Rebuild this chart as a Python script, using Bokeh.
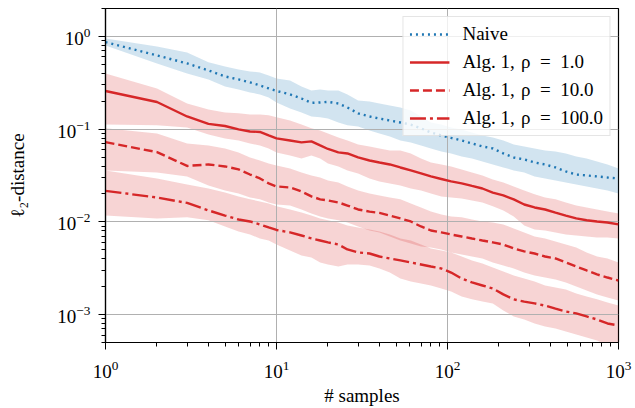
from bokeh.plotting import figure
from bokeh.models import Range1d, FixedTicker, LogTickFormatter
from bokeh.embed import file_html
from bokeh.resources import INLINE

n_samples = [1, 2, 3, 4, 5, 6, 7, 8, 9, 10, 12, 14, 16, 18, 20, 23, 26, 30, 35, 40, 46, 53, 61, 70,
             80, 92, 105, 121, 139, 160, 184, 212, 244, 281, 323, 372, 428, 492, 566, 651, 749, 862, 1000]

naive = [0.868, 0.624, 0.511, 0.430, 0.370, 0.344, 0.319, 0.296, 0.275, 0.258, 0.237, 0.214, 0.192, 0.194,
         0.197, 0.189, 0.171, 0.148, 0.137, 0.130, 0.124, 0.118, 0.112, 0.102, 0.0921, 0.0855, 0.0804, 0.0755,
         0.0701, 0.0651, 0.0619, 0.0547, 0.0495, 0.0471, 0.0437, 0.0416, 0.0386, 0.0350, 0.0324, 0.0317,
         0.0309, 0.0301, 0.0294]
naive_hi = [0.951, 0.780, 0.672, 0.525, 0.475, 0.441, 0.419, 0.409, 0.380, 0.352, 0.335, 0.289, 0.261, 0.268,
            0.261, 0.261, 0.237, 0.204, 0.199, 0.189, 0.180, 0.171, 0.159, 0.137, 0.118, 0.112, 0.104, 0.0993,
            0.0921, 0.0855, 0.0813, 0.0755, 0.0684, 0.0651, 0.0619, 0.0589, 0.0574, 0.0547, 0.0508, 0.0483,
            0.0449, 0.0416, 0.0377]
naive_lo = [0.800, 0.511, 0.399, 0.344, 0.289, 0.268, 0.249, 0.237, 0.220, 0.194, 0.167, 0.151, 0.137, 0.134,
            0.130, 0.118, 0.110, 0.107, 0.0968, 0.0899, 0.0834, 0.0755, 0.0719, 0.0667, 0.0619, 0.0574, 0.0547,
            0.0508, 0.0483, 0.0449, 0.0416, 0.0386, 0.0359, 0.0341, 0.0309, 0.0294, 0.0280, 0.0266, 0.0253,
            0.0241, 0.0229, 0.0218, 0.0202]

rho1 = [0.258, 0.196, 0.137, 0.114, 0.108, 0.0993, 0.0944, 0.0933, 0.0855, 0.0794, 0.0755, 0.0719, 0.0737,
        0.0667, 0.0611, 0.0561, 0.0547, 0.0495, 0.0459, 0.0437, 0.0416, 0.0386, 0.0359, 0.0333, 0.0309, 0.0290,
        0.0273, 0.0260, 0.0244, 0.0229, 0.0207, 0.0193, 0.0175, 0.0154, 0.0143, 0.0136, 0.0126, 0.0117, 0.0109,
        0.0104, 0.0101, 0.00985, 0.00938]
rho1_hi = [0.399, 0.275, 0.189, 0.163, 0.151, 0.148, 0.144, 0.144, 0.141, 0.134, 0.124, 0.112, 0.102, 0.0968,
           0.0899, 0.0813, 0.0755, 0.0684, 0.0651, 0.0619, 0.0589, 0.0589, 0.0547, 0.0483, 0.0437, 0.0416,
           0.0396, 0.0368, 0.0341, 0.0317, 0.0287, 0.0266, 0.0241, 0.0218, 0.0198, 0.0183, 0.0175, 0.0162,
           0.0150, 0.0143, 0.0136, 0.0129, 0.0123]
rho1_lo = [0.112, 0.110, 0.104, 0.0877, 0.0794, 0.0755, 0.0701, 0.0667, 0.0619, 0.0561, 0.0520, 0.0483, 0.0520,
           0.0483, 0.0427, 0.0396, 0.0359, 0.0333, 0.0294, 0.0273, 0.0260, 0.0247, 0.0229, 0.0218, 0.0202,
           0.0188, 0.0183, 0.0179, 0.0170, 0.0162, 0.0147, 0.0133, 0.0114, 0.00915, 0.00828, 0.00807, 0.00769,
           0.00731, 0.00713, 0.00696, 0.00679, 0.00679, 0.00662]

rho10 = [0.0724, 0.0565, 0.0401, 0.0416, 0.0396, 0.0368, 0.0324, 0.0294, 0.0260, 0.0241, 0.0235, 0.0213, 0.0188,
         0.0175, 0.0170, 0.0162, 0.0150, 0.0136, 0.0129, 0.0125, 0.0117, 0.0109, 0.0101, 0.00892, 0.00807,
         0.00769, 0.00731, 0.00696, 0.00662, 0.00630, 0.00600, 0.00570, 0.00516, 0.00480, 0.00456, 0.00423,
         0.00403, 0.00365, 0.00330, 0.00299, 0.00271, 0.00251, 0.00233]
rho10_hi = [0.102, 0.0899, 0.0701, 0.0667, 0.0619, 0.0561, 0.0495, 0.0459, 0.0427, 0.0406, 0.0377, 0.0341,
            0.0317, 0.0301, 0.0280, 0.0266, 0.0241, 0.0218, 0.0202, 0.0193, 0.0183, 0.0175, 0.0158, 0.0143,
            0.0129, 0.0120, 0.0114, 0.0112, 0.0106, 0.0101, 0.00985, 0.00938, 0.00849, 0.00769, 0.00696,
            0.00662, 0.00615, 0.00570, 0.00530, 0.00468, 0.00423, 0.00403, 0.00365]
rho10_lo = [0.0359, 0.0341, 0.0309, 0.0247, 0.0218, 0.0202, 0.0183, 0.0175, 0.0162, 0.0154, 0.0150, 0.0136,
            0.0123, 0.0114, 0.0109, 0.0104, 0.00985, 0.00892, 0.00807, 0.00769, 0.00696, 0.00630, 0.00585,
            0.00543, 0.00530, 0.00504, 0.00468, 0.00445, 0.00423, 0.00403, 0.00365, 0.00339, 0.00314, 0.00284,
            0.00264, 0.00251, 0.00239, 0.00222, 0.00201, 0.00182, 0.00165, 0.00153, 0.00142]

rho100 = [0.0216, 0.0183, 0.0160, 0.0133, 0.0117, 0.0106, 0.0101, 0.00938, 0.00871, 0.00818, 0.00769, 0.00713,
          0.00662, 0.00630, 0.00600, 0.00570, 0.00504, 0.00468, 0.00456, 0.00423, 0.00403, 0.00384, 0.00365,
          0.00347, 0.00330, 0.00314, 0.00284, 0.00245, 0.00222, 0.00206, 0.00191, 0.00165, 0.00146, 0.00138,
          0.00132, 0.00125, 0.00116, 0.00108, 0.00103, 0.000955, 0.000885, 0.000802, 0.000764]
rho100_hi = [0.0359, 0.0294, 0.0253, 0.0229, 0.0207, 0.0188, 0.0175, 0.0166, 0.0158, 0.0147, 0.0136, 0.0126,
             0.0117, 0.0109, 0.0104, 0.00985, 0.00915, 0.00871, 0.00828, 0.00788, 0.00731, 0.00662, 0.00630,
             0.00570, 0.00516, 0.00492, 0.00468, 0.00423, 0.00384, 0.00356, 0.00322, 0.00292, 0.00264, 0.00245,
             0.00228, 0.00206, 0.00196, 0.00187, 0.00169, 0.00157, 0.00146, 0.00135, 0.00125]
rho100_lo = [0.0117, 0.0109, 0.0112, 0.0104, 0.00892, 0.00788, 0.00731, 0.00662, 0.00630, 0.00570, 0.00492,
             0.00434, 0.00413, 0.00365, 0.00347, 0.00330, 0.00347, 0.00347, 0.00339, 0.00314, 0.00284, 0.00245,
             0.00228, 0.00217, 0.00206, 0.00191, 0.00177, 0.00157, 0.00146, 0.00138, 0.00132, 0.00111, 0.000955,
             0.000885, 0.000802, 0.000745, 0.000708, 0.000657, 0.000610, 0.000566, 0.000526, 0.000465, 0.000410]

labels = ["Naive", "Alg. 1,\u2004ρ\u2002=\u20021.0", "Alg. 1,\u2004ρ\u2002=\u200210.0",
          "Alg. 1,\u2004ρ\u2002=\u2002100.0"]

BLUE = "#1f77b4"
RED = "#d62728"
FONT = "Liberation Serif"
FS = "19px"

p = figure(width=633, height=408, x_axis_type="log", y_axis_type="log",
           x_range=Range1d(1, 1000), y_range=Range1d(5e-4, 2),
           output_backend="svg", toolbar_location=None,
           min_border_left=105, min_border_right=15, min_border_top=8, min_border_bottom=66)

series = [
    (naive, naive_lo, naive_hi, BLUE, "2 4"),
    (rho1, rho1_lo, rho1_hi, RED, "solid"),
    (rho10, rho10_lo, rho10_hi, RED, "9 4"),
    (rho100, rho100_lo, rho100_hi, RED, "16 4 3 4"),
]

for (mid, lo, hi, col, dash), lab in zip(series, labels):
    band = p.varea(x=n_samples, y1=lo, y2=hi, fill_color=col, fill_alpha=0.2)
    band.level = "image"

for (mid, lo, hi, col, dash), lab in zip(series, labels):
    p.line(n_samples, mid, line_color=col, line_width=2.4, line_dash=dash, legend_label=lab)

decades_x = [1, 10, 100, 1000]
decades_y = [1e-4, 1e-3, 1e-2, 1e-1, 1, 10]
minor_x = [m * d for d in [1, 10, 100] for m in range(2, 10)]
minor_y = [m * d for d in [1e-4, 1e-3, 1e-2, 1e-1, 1] for m in range(2, 10)]

p.xaxis.ticker = FixedTicker(ticks=decades_x, minor_ticks=minor_x)
p.yaxis.ticker = FixedTicker(ticks=decades_y, minor_ticks=minor_y)
for ax in (p.xaxis[0], p.yaxis[0]):
    ax.formatter = LogTickFormatter()
    ax.major_label_text_font = FONT
    ax.major_label_text_font_size = FS
    ax.major_label_text_color = "black"
    ax.axis_label_text_font = FONT
    ax.axis_label_text_font_size = FS
    ax.axis_label_text_font_style = "normal"
    ax.axis_label_text_color = "black"
    ax.axis_line_color = "black"
    ax.axis_line_width = 1.2
    ax.major_tick_line_color = "black"
    ax.minor_tick_line_color = "black"
    ax.major_tick_in = 0
    ax.major_tick_out = 7
    ax.minor_tick_in = 0
    ax.minor_tick_out = 4

p.xaxis.major_label_standoff = 11
p.yaxis.major_label_standoff = 8
p.xaxis.axis_label = "# samples"
p.yaxis.axis_label = "ℓ₂-distance"
p.xaxis.axis_label_standoff = 4
p.yaxis.axis_label_standoff = 26

p.xgrid.grid_line_color = "#b0b0b0"
p.ygrid.grid_line_color = "#b0b0b0"
p.xgrid.grid_line_width = 1
p.ygrid.grid_line_width = 1
p.outline_line_color = "black"
p.outline_line_width = 1.2
p.outline_line_alpha = 1

lg = p.legend[0]
lg.location = "top_right"
lg.margin = 8
lg.padding = 6
lg.spacing = 6
lg.glyph_width = 40
lg.glyph_height = 20
lg.label_height = 20
lg.label_standoff = 13
lg.label_text_font = FONT
lg.label_text_font_size = FS
lg.label_text_color = "black"
lg.background_fill_color = "white"
lg.background_fill_alpha = 0.8
lg.border_line_color = "#cccccc"
lg.border_line_width = 1

open("out.html", "w").write(file_html(p, INLINE))
